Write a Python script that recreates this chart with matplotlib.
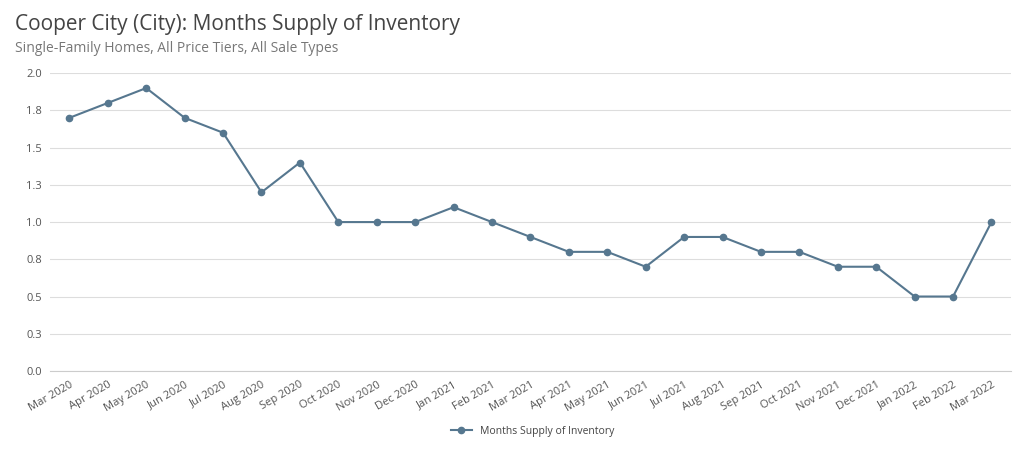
import matplotlib.pyplot as plt
from matplotlib.ticker import FixedLocator

plt.rcParams['font.family'] = 'Open Sans'

months = ['Mar 2020', 'Apr 2020', 'May 2020', 'Jun 2020', 'Jul 2020', 'Aug 2020', 'Sep 2020',
          'Oct 2020', 'Nov 2020', 'Dec 2020', 'Jan 2021', 'Feb 2021', 'Mar 2021', 'Apr 2021',
          'May 2021', 'Jun 2021', 'Jul 2021', 'Aug 2021', 'Sep 2021', 'Oct 2021', 'Nov 2021',
          'Dec 2021', 'Jan 2022', 'Feb 2022', 'Mar 2022']
supply = [1.7, 1.8, 1.9, 1.7, 1.6, 1.2, 1.4, 1.0, 1.0, 1.0, 1.1, 1.0, 0.9, 0.8,
          0.8, 0.7, 0.9, 0.9, 0.8, 0.8, 0.7, 0.7, 0.5, 0.5, 1.0]
y_ticks = [0, 0.25, 0.5, 0.75, 1.0, 1.25, 1.5, 1.75, 2.0]
y_labels = ['0.0', '0.3', '0.5', '0.8', '1.0', '1.3', '1.5', '1.8', '2.0']

line_color = '#56778f'

fig = plt.figure(figsize=(10.24, 4.69), dpi=100, facecolor='white')
ax = fig.add_axes([0.049, 0.209, 0.938, 0.635])

x = range(len(months))
ax.plot(x, supply, color=line_color, linewidth=1.5, marker='o', markersize=4.5,
        label='Months Supply of Inventory')

ax.set_ylim(0, 2.0)
ax.set_xlim(-0.5, len(months) - 0.5)
ax.yaxis.set_major_locator(FixedLocator(y_ticks))
ax.set_yticklabels(y_labels, fontsize=8, color='#555555')
ax.set_xticks(list(x))
ax.set_xticklabels(months, rotation=30, ha='right', fontsize=8, color='#555555',
                   rotation_mode='anchor')
ax.grid(axis='y', color='#dddddd', linewidth=0.8)
ax.set_axisbelow(True)
for s in ['top', 'right', 'left']:
    ax.spines[s].set_visible(False)
ax.spines['bottom'].set_color('#cccccc')
ax.tick_params(axis='both', length=0, pad=6)

fig.text(0.015, 0.935, 'Cooper City (City): Months Supply of Inventory', fontsize=15, color='#444444')
fig.text(0.015, 0.89, 'Single-Family Homes, All Price Tiers, All Sale Types', fontsize=10, color='#777777')

fig.legend(loc='center', bbox_to_anchor=(0.52, 0.08), frameon=False, fontsize=7.5,
           labelcolor='#444444')

fig.savefig('out.png', dpi=100, facecolor='white')
